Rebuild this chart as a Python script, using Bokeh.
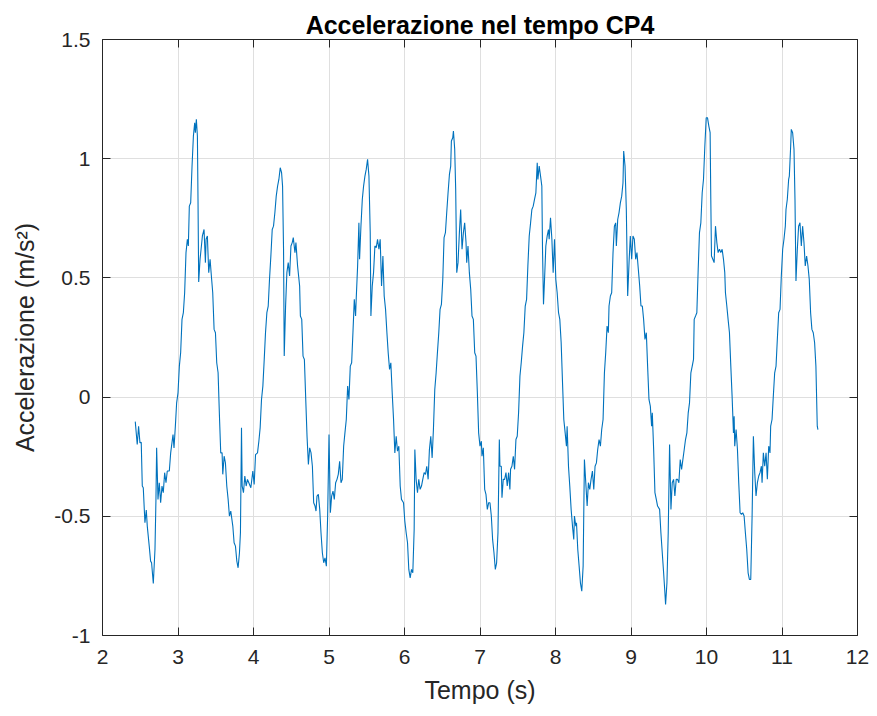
from bokeh.plotting import figure
from bokeh.models import Range1d, FixedTicker, LinearAxis
from bokeh.embed import file_html
from bokeh.resources import INLINE

title_text = "Accelerazione nel tempo CP4"
x_label = "Tempo (s)"
y_label = "Accelerazione (m/s²)"

x_ticks = [2, 3, 4, 5, 6, 7, 8, 9, 10, 11, 12]
x_tick_labels = ["2", "3", "4", "5", "6", "7", "8", "9", "10", "11", "12"]
y_ticks = [-1, -0.5, 0, 0.5, 1, 1.5]
y_tick_labels = ["-1", "-0.5", "0", "0.5", "1", "1.5"]

tempo = [
    2.434, 2.460, 2.478, 2.496, 2.513, 2.527, 2.540, 2.562, 2.580, 2.593, 2.619, 2.637, 2.650, 2.673, 2.695,
    2.708, 2.717, 2.735, 2.752, 2.770, 2.788, 2.805, 2.823, 2.841, 2.858, 2.885, 2.903, 2.934, 2.947, 2.965,
    2.982, 3.000, 3.018, 3.035, 3.053, 3.071, 3.088, 3.106, 3.124, 3.137, 3.150, 3.168, 3.186, 3.204, 3.221,
    3.230, 3.243, 3.257, 3.265, 3.274, 3.292, 3.310, 3.323, 3.345, 3.363, 3.372, 3.389, 3.407, 3.425, 3.442,
    3.460, 3.478, 3.496, 3.513, 3.531, 3.549, 3.566, 3.584, 3.593, 3.611, 3.628, 3.646, 3.664, 3.681, 3.699,
    3.726, 3.743, 3.761, 3.779, 3.796, 3.814, 3.827, 3.841, 3.850, 3.867, 3.885, 3.903, 3.920, 3.938, 3.965,
    3.991, 4.009, 4.027, 4.053, 4.071, 4.088, 4.106, 4.124, 4.142, 4.159, 4.177, 4.195, 4.212, 4.230, 4.248,
    4.265, 4.283, 4.301, 4.319, 4.336, 4.354, 4.372, 4.385, 4.398, 4.407, 4.425, 4.442, 4.460, 4.478, 4.496,
    4.513, 4.527, 4.549, 4.562, 4.584, 4.611, 4.621, 4.639, 4.656, 4.674, 4.692, 4.709, 4.727, 4.744, 4.762,
    4.780, 4.797, 4.815, 4.828, 4.841, 4.859, 4.877, 4.894, 4.912, 4.930, 4.947, 4.965, 4.982, 5.000, 5.018,
    5.035, 5.053, 5.070, 5.088, 5.106, 5.123, 5.141, 5.159, 5.176, 5.194, 5.211, 5.229, 5.247, 5.264, 5.282,
    5.300, 5.317, 5.335, 5.352, 5.361, 5.379, 5.396, 5.405, 5.423, 5.441, 5.458, 5.476, 5.493, 5.511, 5.529,
    5.546, 5.555, 5.573, 5.590, 5.608, 5.626, 5.643, 5.661, 5.678, 5.696, 5.714, 5.731, 5.749, 5.767, 5.784,
    5.802, 5.819, 5.837, 5.855, 5.872, 5.890, 5.907, 5.925, 5.943, 5.960, 5.987, 6.004, 6.022, 6.040, 6.057,
    6.075, 6.093, 6.110, 6.128, 6.137, 6.154, 6.172, 6.189, 6.207, 6.225, 6.242, 6.260, 6.278, 6.295, 6.313,
    6.330, 6.348, 6.366, 6.383, 6.401, 6.419, 6.436, 6.454, 6.471, 6.489, 6.507, 6.524, 6.542, 6.559, 6.577,
    6.595, 6.612, 6.621, 6.639, 6.648, 6.665, 6.678, 6.692, 6.709, 6.727, 6.744, 6.762, 6.780, 6.797, 6.815,
    6.824, 6.841, 6.859, 6.877, 6.894, 6.912, 6.930, 6.947, 6.965, 6.982, 7.000, 7.018, 7.026, 7.044, 7.062,
    7.079, 7.097, 7.115, 7.132, 7.150, 7.167, 7.185, 7.203, 7.220, 7.238, 7.256, 7.264, 7.282, 7.291, 7.308,
    7.326, 7.344, 7.361, 7.379, 7.396, 7.405, 7.423, 7.441, 7.458, 7.476, 7.493, 7.511, 7.529, 7.546, 7.564,
    7.581, 7.599, 7.617, 7.634, 7.652, 7.670, 7.687, 7.705, 7.722, 7.740, 7.758, 7.767, 7.784, 7.802, 7.819,
    7.828, 7.841, 7.855, 7.872, 7.890, 7.907, 7.916, 7.934, 7.952, 7.969, 7.987, 8.004, 8.022, 8.040, 8.057,
    8.075, 8.093, 8.110, 8.128, 8.145, 8.154, 8.172, 8.189, 8.207, 8.225, 8.242, 8.251, 8.269, 8.278, 8.295,
    8.313, 8.330, 8.348, 8.366, 8.383, 8.401, 8.419, 8.436, 8.454, 8.471, 8.489, 8.507, 8.524, 8.542, 8.559,
    8.577, 8.595, 8.612, 8.630, 8.648, 8.665, 8.683, 8.700, 8.709, 8.727, 8.744, 8.762, 8.780, 8.797, 8.806,
    8.824, 8.841, 8.859, 8.877, 8.894, 8.903, 8.921, 8.938, 8.956, 8.974, 8.991, 9.009, 9.026, 9.044, 9.062,
    9.079, 9.097, 9.115, 9.132, 9.150, 9.167, 9.185, 9.203, 9.220, 9.238, 9.256, 9.273, 9.282, 9.300, 9.317,
    9.335, 9.352, 9.379, 9.396, 9.414, 9.432, 9.449, 9.458, 9.476, 9.493, 9.511, 9.529, 9.546, 9.564, 9.581,
    9.599, 9.617, 9.634, 9.652, 9.670, 9.687, 9.705, 9.722, 9.740, 9.758, 9.775, 9.793, 9.811, 9.828, 9.837,
    9.855, 9.872, 9.890, 9.907, 9.925, 9.943, 9.960, 9.978, 9.996, 10.013, 10.031, 10.048, 10.057, 10.066, 10.084,
    10.101, 10.119, 10.137, 10.154, 10.172, 10.189, 10.207, 10.225, 10.242, 10.251, 10.269, 10.286, 10.304, 10.322, 10.339,
    10.357, 10.366, 10.374, 10.392, 10.410, 10.427, 10.445, 10.463, 10.480, 10.498, 10.515, 10.533, 10.551, 10.568, 10.586,
    10.604, 10.621, 10.639, 10.656, 10.674, 10.692, 10.709, 10.727, 10.736, 10.753, 10.771, 10.789, 10.806, 10.824, 10.841,
    10.850, 10.868, 10.885, 10.903, 10.921, 10.938, 10.956, 10.974, 10.991, 11.009, 11.026, 11.044, 11.053, 11.070, 11.088,
    11.097, 11.115, 11.123, 11.141, 11.159, 11.172, 11.185, 11.203, 11.220, 11.238, 11.256, 11.273, 11.291, 11.308, 11.326,
    11.344, 11.361, 11.379, 11.396, 11.414, 11.432, 11.449, 11.467, 11.476,
]

accelerazione = [
    -0.103, -0.199, -0.122, -0.192, -0.189, -0.373, -0.380, -0.527, -0.474, -0.541, -0.625, -0.688, -0.695, -0.782, -0.639,
    -0.429, -0.213, -0.429, -0.359, -0.443, -0.373, -0.401, -0.317, -0.359, -0.310, -0.310, -0.234, -0.157, -0.213, -0.122,
    -0.024, 0.018, 0.130, 0.186, 0.326, 0.354, 0.438, 0.606, 0.662, 0.634, 0.801, 0.815, 0.969, 1.095, 1.151,
    1.109, 1.165, 1.095, 0.829, 0.483, 0.578, 0.634, 0.676, 0.703, 0.564, 0.662, 0.676, 0.522, 0.578, 0.508,
    0.438, 0.284, 0.270, 0.144, 0.102, -0.080, -0.234, -0.234, -0.324, -0.248, -0.276, -0.373, -0.429, -0.499, -0.478,
    -0.541, -0.611, -0.625, -0.688, -0.716, -0.653, -0.569, -0.129, -0.373, -0.401, -0.331, -0.373, -0.345, -0.359, -0.380,
    -0.310, -0.366, -0.241, -0.234, -0.185, -0.129, -0.010, 0.046, 0.158, 0.270, 0.354, 0.382, 0.494, 0.592, 0.703,
    0.717, 0.773, 0.843, 0.885, 0.913, 0.962, 0.941, 0.885, 0.620, 0.172, 0.382, 0.522, 0.564, 0.508, 0.634,
    0.648, 0.669, 0.606, 0.648, 0.550, 0.466, 0.340, 0.326, 0.172, 0.158, -0.010, -0.164, -0.283, -0.213, -0.234,
    -0.290, -0.443, -0.457, -0.478, -0.415, -0.408, -0.471, -0.569, -0.653, -0.695, -0.674, -0.709, -0.499, -0.157, -0.485,
    -0.415, -0.394, -0.429, -0.359, -0.345, -0.324, -0.269, -0.359, -0.345, -0.206, -0.150, -0.094, 0.046, -0.010, 0.130,
    0.144, 0.270, 0.410, 0.340, 0.417, 0.550, 0.731, 0.578, 0.717, 0.829, 0.885, 0.927, 0.955, 0.997, 0.927,
    0.690, 0.340, 0.466, 0.522, 0.634, 0.627, 0.662, 0.620, 0.662, 0.466, 0.592, 0.424, 0.368, 0.270, 0.186,
    0.116, 0.144, 0.018, -0.094, -0.234, -0.164, -0.227, -0.206, -0.373, -0.429, -0.443, -0.520, -0.569, -0.611, -0.723,
    -0.758, -0.723, -0.737, -0.555, -0.220, -0.345, -0.401, -0.345, -0.387, -0.373, -0.345, -0.317, -0.324, -0.290, -0.345,
    -0.220, -0.164, -0.255, -0.136, 0.032, 0.102, 0.186, 0.270, 0.368, 0.389, 0.494, 0.669, 0.690, 0.773, 0.857,
    0.934, 0.969, 1.074, 1.088, 1.116, 1.039, 0.871, 0.522, 0.564, 0.690, 0.787, 0.620, 0.690, 0.731, 0.648,
    0.564, 0.634, 0.522, 0.452, 0.340, 0.326, 0.186, 0.172, 0.018, -0.150, -0.206, -0.185, -0.248, -0.213, -0.387,
    -0.408, -0.471, -0.443, -0.443, -0.499, -0.597, -0.653, -0.723, -0.695, -0.569, -0.178, -0.290, -0.290, -0.422, -0.345,
    -0.345, -0.317, -0.373, -0.317, -0.387, -0.303, -0.290, -0.248, -0.303, -0.178, -0.164, -0.066, 0.088, 0.144, 0.214,
    0.270, 0.382, 0.410, 0.550, 0.676, 0.731, 0.787, 0.801, 0.829, 0.857, 0.983, 0.913, 0.969, 0.927, 0.885,
    0.620, 0.389, 0.494, 0.634, 0.676, 0.703, 0.662, 0.752, 0.662, 0.522, 0.662, 0.494, 0.438, 0.354, 0.326,
    0.228, 0.060, -0.094, -0.150, -0.206, -0.122, -0.290, -0.373, -0.471, -0.541, -0.597, -0.499, -0.541, -0.527, -0.639,
    -0.709, -0.779, -0.814, -0.709, -0.262, -0.359, -0.457, -0.359, -0.387, -0.345, -0.310, -0.387, -0.290, -0.276, -0.220,
    -0.178, -0.206, -0.136, -0.094, 0.102, 0.186, 0.298, 0.270, 0.382, 0.424, 0.438, 0.606, 0.717, 0.731, 0.634,
    0.745, 0.773, 0.815, 0.843, 0.899, 1.032, 0.969, 0.787, 0.424, 0.564, 0.676, 0.578, 0.676, 0.662, 0.578,
    0.606, 0.536, 0.466, 0.382, 0.382, 0.326, 0.242, 0.270, 0.130, -0.010, -0.038, -0.122, -0.066, -0.220, -0.401,
    -0.429, -0.457, -0.471, -0.569, -0.653, -0.737, -0.821, -0.870, -0.779, -0.569, -0.199, -0.471, -0.359, -0.345, -0.415,
    -0.345, -0.345, -0.359, -0.262, -0.303, -0.262, -0.220, -0.178, -0.150, -0.066, -0.024, 0.102, 0.130, 0.158, 0.326,
    0.340, 0.354, 0.536, 0.690, 0.731, 0.857, 0.913, 1.053, 1.172, 1.172, 1.137, 1.109, 0.829, 0.592, 0.578,
    0.564, 0.717, 0.648, 0.606, 0.620, 0.606, 0.620, 0.578, 0.522, 0.438, 0.382, 0.326, 0.270, 0.130, 0.004,
    -0.150, -0.080, -0.206, -0.136, -0.220, -0.359, -0.485, -0.492, -0.485, -0.499, -0.569, -0.639, -0.737, -0.765, -0.765,
    -0.499, -0.164, -0.317, -0.415, -0.359, -0.331, -0.317, -0.290, -0.359, -0.234, -0.290, -0.234, -0.345, -0.206, -0.234,
    -0.122, -0.094, 0.004, 0.102, 0.130, 0.242, 0.354, 0.368, 0.508, 0.620, 0.662, 0.717, 0.787, 0.829, 0.913,
    0.927, 1.053, 1.123, 1.109, 1.039, 0.829, 0.487, 0.620, 0.717, 0.731, 0.634, 0.717, 0.648, 0.550, 0.592,
    0.550, 0.494, 0.354, 0.284, 0.270, 0.228, 0.130, -0.122, -0.136,
]

AX = "#262626"
FONT = "Liberation Sans"

p = figure(width=877, height=716, output_backend="svg", toolbar_location=None,
           x_range=Range1d(2, 12), y_range=Range1d(-1, 1.5),
           min_border_left=102, min_border_right=20, min_border_top=39, min_border_bottom=81)
p.background_fill_color = "white"
p.border_fill_color = "white"
p.outline_line_color = None

p.title.text = title_text
p.title.align = "center"
p.title.text_font = FONT
p.title.text_font_size = "25px"
p.title.text_font_style = "bold"
p.title.text_color = "black"
p.title.standoff = 2

p.line(tempo, accelerazione, line_color="#0072BD", line_width=1.1)

def style_axis(ax, ticks, labels, show):
    ax.ticker = FixedTicker(ticks=ticks)
    ax.axis_line_color = AX
    ax.axis_line_width = 1
    ax.major_tick_line_color = AX
    ax.major_tick_in = 8
    ax.major_tick_out = 0
    ax.minor_tick_line_color = None
    ax.major_label_text_font = FONT
    if show:
        ax.major_label_overrides = {t: l for t, l in zip(ticks, labels)}
        ax.major_label_text_color = AX
        ax.major_label_text_font_size = "21px"
    else:
        ax.major_label_text_color = None
        ax.major_label_text_font_size = "1px"
        ax.major_label_standoff = 0

xa = p.xaxis[0]
ya = p.yaxis[0]
style_axis(xa, x_ticks, x_tick_labels, True)
style_axis(ya, y_ticks, y_tick_labels, True)
xa.major_label_standoff = 14
ya.major_label_standoff = 12
xa.axis_label = x_label
ya.axis_label = y_label
for ax in (xa, ya):
    ax.axis_label_text_font = FONT
    ax.axis_label_text_font_size = "25px"
    ax.axis_label_text_font_style = "normal"
    ax.axis_label_text_color = AX
xa.axis_label_standoff = 9
ya.axis_label_standoff = 12

top = LinearAxis()
right = LinearAxis()
style_axis(top, x_ticks, x_tick_labels, False)
style_axis(right, y_ticks, y_tick_labels, False)
p.add_layout(top, "above")
p.add_layout(right, "right")

p.xgrid.ticker = FixedTicker(ticks=x_ticks)
p.ygrid.ticker = FixedTicker(ticks=y_ticks)
p.grid.grid_line_color = "#dfdfdf"
p.grid.grid_line_width = 1

open("out.html", "w").write(file_html(p, INLINE))
